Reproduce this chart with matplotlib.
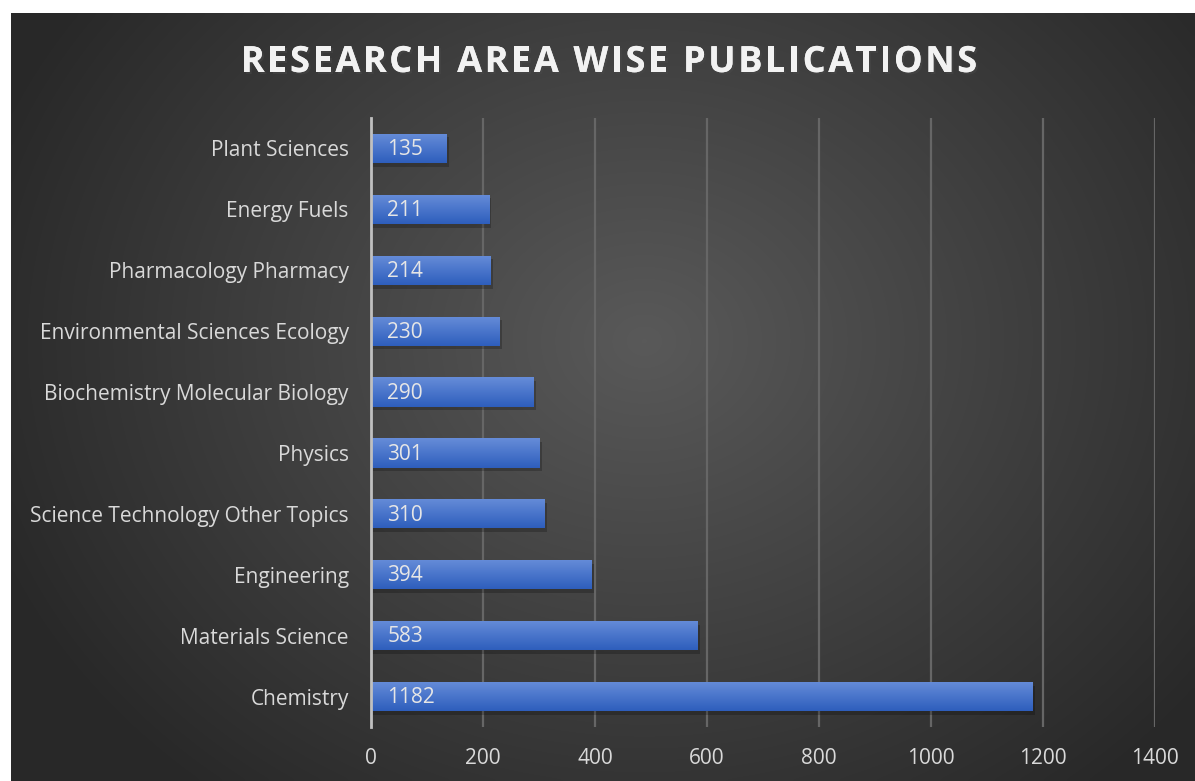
import numpy as np
import matplotlib.pyplot as plt
import matplotlib.patheffects as pe
from matplotlib.patches import Rectangle

categories = ["Chemistry", "Materials Science", "Engineering",
              "Science Technology Other Topics", "Physics",
              "Biochemistry Molecular Biology", "Environmental Sciences Ecology",
              "Pharmacology Pharmacy", "Energy Fuels", "Plant Sciences"]
counts = [1182, 583, 394, 310, 301, 290, 230, 214, 211, 135]
xticks = [0, 200, 400, 600, 800, 1000, 1200, 1400]
title = "RESEARCH AREA WISE PUBLICATIONS"

W, H = 1195, 781
fig = plt.figure(figsize=(W / 100, H / 100), dpi=100)
fig.patch.set_facecolor("white")

# dark radial-gradient panel
bg = fig.add_axes([11 / W, 0, 1 - 11 / W, 1 - 13 / H])
bg.axis("off")
yy, xx = np.mgrid[0:200, 0:300]
r = np.sqrt(((xx - 160) / 175.0) ** 2 + ((yy - 85) / 150.0) ** 2)
r = np.clip(r, 0, 1)
shade = 0.35 - 0.19 * r
bg.imshow(np.dstack([shade, shade, shade]), aspect="auto",
          extent=[0, 1, 0, 1], interpolation="bicubic")
bg.set_xlim(0, 1)
bg.set_ylim(0, 1)

ax = fig.add_axes([371 / W, 1 - 727 / H, (1155 - 371) / W, (727 - 118) / H])
ax.patch.set_alpha(0)
y = np.arange(len(categories))
bars = ax.barh(y, counts, height=0.48, color="#3f6dcc", zorder=3)

grad = np.linspace(0, 1, 50).reshape(-1, 1)
top = np.array([0.40, 0.55, 0.85])
bot = np.array([0.18, 0.37, 0.74])
img = top + (bot - top) * grad[..., None]
for b in bars:
    x0, y0, w, h = b.get_x(), b.get_y(), b.get_width(), b.get_height()
    sh = Rectangle((x0 + 4, y0 - 0.06), w, h, color="black", alpha=0.22,
                   zorder=2, lw=0)
    ax.add_patch(sh)
    im = ax.imshow(img, extent=[x0, x0 + w, y0, y0 + h], aspect="auto",
                   zorder=3.5, origin="upper")
    im.set_clip_path(b)

for yi, v in zip(y, counts):
    ax.text(29, yi - 0.02, str(v), color="#e6e6e6", fontsize=15,
            family="Open Sans", va="center", ha="left", zorder=5)

ax.set_xlim(0, 1400)
ax.set_ylim(-0.5, len(categories) - 0.5)
ax.set_xticks(xticks)
ax.set_xticklabels([str(t) for t in xticks])
ax.set_yticks(y)
ax.set_yticklabels(categories)
ax.grid(axis="x", color="#666666", lw=1.6, zorder=1)
ax.tick_params(length=0, colors="#d9d9d9", labelsize=15)
ax.tick_params(axis="y", pad=16)
ax.tick_params(axis="x", pad=15)
for lab in ax.get_xticklabels() + ax.get_yticklabels():
    lab.set_family("Open Sans")
for s in ["top", "right", "bottom"]:
    ax.spines[s].set_visible(False)
ax.spines["left"].set_color("#c0c0c0")
ax.spines["left"].set_linewidth(2)
ax.spines["left"].set_zorder(6)

# title with a little letter spacing, drawn char by char
renderer = fig.canvas.get_renderer()
tkw = dict(color="#f2f2f2", fontsize=26, fontweight="bold", family="Open Sans",
           va="center", ha="left",
           path_effects=[pe.withSimplePatchShadow(offset=(1.5, -1.5), alpha=0.5),
                         pe.Normal()])
track = 2.6
widths = []
for ch in title:
    t = fig.text(0, 0, ch if ch != " " else "n", **tkw)
    wpx = t.get_window_extent(renderer).width
    if ch == " ":
        wpx *= 0.4
    widths.append(wpx)
    t.remove()
total = sum(widths) + track * (len(title) - 1)
xpos = 609 - total / 2
for ch, wpx in zip(title, widths):
    if ch != " ":
        fig.text(xpos / W, 1 - 63 / H, ch, **tkw)
    xpos += wpx + track

fig.savefig("out.png", dpi=100)
